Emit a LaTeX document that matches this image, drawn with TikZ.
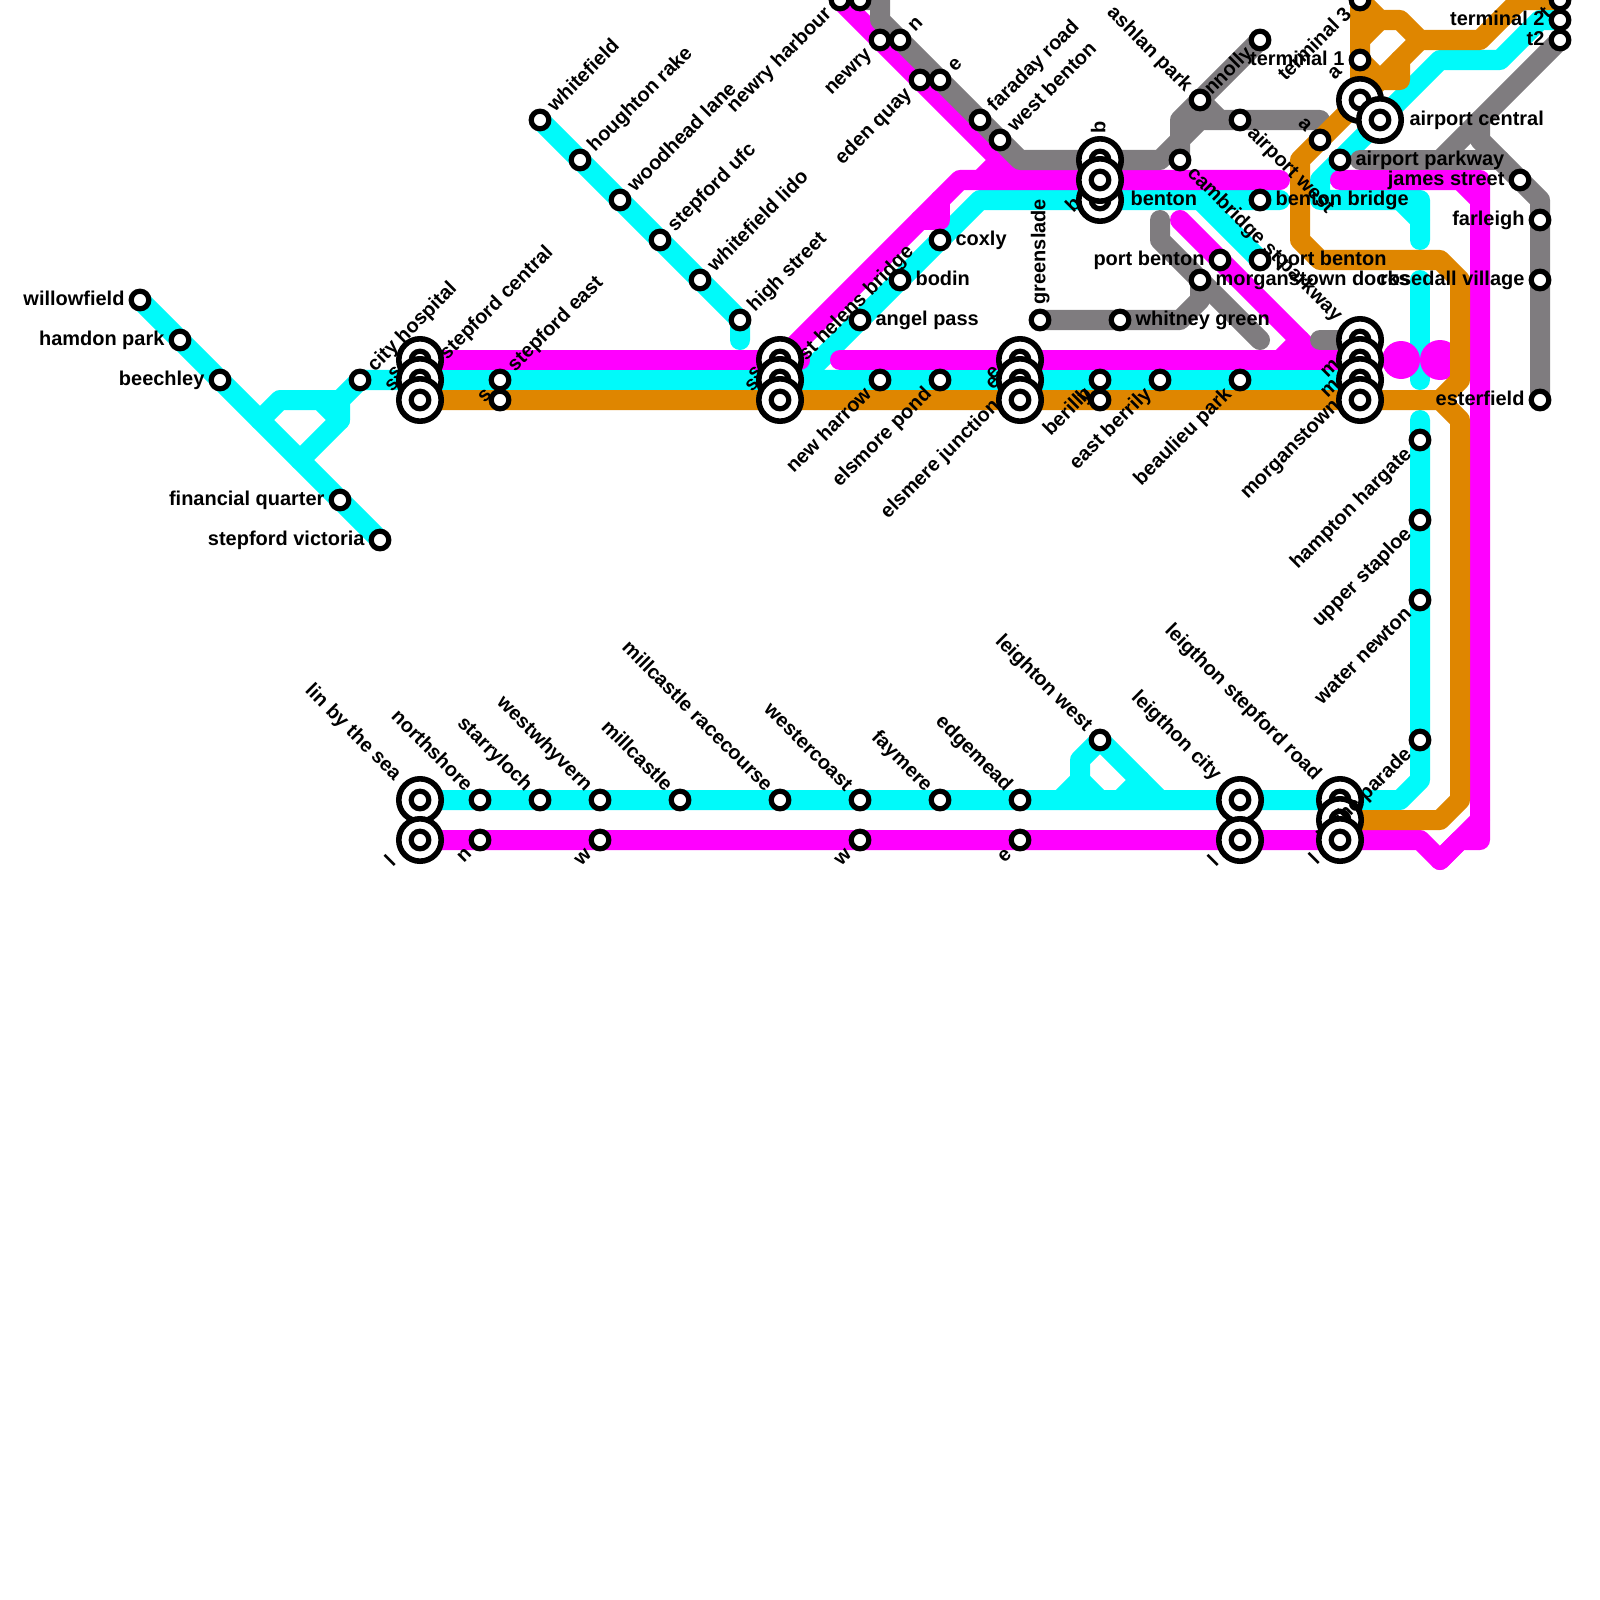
\documentclass[tikz,border=0pt]{standalone}
\usepackage{fontspec}
\setmainfont{Liberation Sans}
\definecolor{metrocyan}{HTML}{00FAFA}
\definecolor{metromagenta}{HTML}{FF00FF}
\definecolor{metroorange}{HTML}{DF8600}
\definecolor{metrogray}{HTML}{7F7C7F}
\tikzset{
    metro/.style={line width=0.25cm, line cap=round, line join=round},
    stn/.style={circle, draw=black, fill=white, line width=0.065cm, minimum size=0.22cm, inner sep=0pt},
    hubring/.style={circle, draw=black, fill=white, line width=0.07cm, minimum size=0.53cm, inner sep=0pt},
    lbl/.style={inner sep=0pt, text height=5.4pt, text depth=1.6pt, font=\bfseries\fontsize{7.1pt}{8pt}\selectfont},
    lblleft/.style={lbl, anchor=east},
    lblright/.style={lbl, anchor=west},
    lblur/.style={lbl, anchor=west, rotate=45},
    lblul/.style={lbl, anchor=east, rotate=-45},
    lbldl/.style={lbl, anchor=east, rotate=45},
    lbldr/.style={lbl, anchor=west, rotate=-45},
    lblup/.style={lbl, anchor=west, rotate=90}
}
\begin{document}
\begin{tikzpicture}[x=0.0125cm, y=-0.0125cm]
    \useasboundingbox (0,0) rectangle (1600,1600);
    % Cyan line
    \draw[metro, metrocyan] (140,300) -- (380,540);
    \draw[metro, metrocyan] (260,420) -- (280,400) -- (320,400) -- (340,420);
    \draw[metro, metrocyan] (1360,380) -- (360,380) -- (340,400) -- (340,420) -- (300,460);
    \draw[metro, metrocyan] (320,400) -- (340,400);
    \draw[metro, metrocyan] (540,120) -- (740,320) -- (740,340);
    \draw[metro, metrocyan] (800,380) -- (980,200) -- (1280,200);
    \draw[metro, metrocyan] (1200,200) -- (1260,260);
    \draw[metro, metrocyan] (1560,20) -- (1540,20) -- (1500,60) -- (1440,60) -- (1320,180) -- (1320,200) -- (1420,200) -- (1420,240);
    \draw[metro, metrocyan] (1400,200) -- (1420,220);
    \draw[metro, metrocyan] (1420,280) -- (1420,380);
    \draw[metro, metrocyan] (1420,420) -- (1420,780) -- (1400,800) -- (420,800);
    \draw[metro, metrocyan] (1060,800) -- (1080,780) -- (1080,760) -- (1100,740) -- (1160,800);
    \draw[metro, metrocyan] (1080,780) -- (1100,800);
    \draw[metro, metrocyan] (1120,800) -- (1140,780);
    % Magenta line
    \draw[metro, metromagenta] (420,360) -- (800,360);
    \draw[metro, metromagenta] (780,360) -- (960,180) -- (1280,180);
    \draw[metro, metromagenta] (940,200) -- (940,220) -- (920,220);
    \draw[metro, metromagenta] (840,0) -- (1020,180);
    \draw[metro, metromagenta] (1000,160) -- (980,180);
    \draw[metro, metromagenta] (840,360) -- (1360,360);
    \draw[metro, metromagenta] (1180,220) -- (1320,360);
    \draw[metro, metromagenta] (1300,340) -- (1280,360);
    \draw[metro, metromagenta] (1340,180) -- (1480,180) -- (1480,840) -- (1460,840) -- (1440,860) -- (1420,840) -- (420,840);
    \draw[metro, metromagenta] (1460,180) -- (1480,200);
    \draw[metro, metromagenta] (1440,860) -- (1480,820);
    \fill[metromagenta] (1401,360) circle (19) (1440,360) circle (20);
    % Gray line
    \draw[metro, metrogray] (860,0) -- (880,0) -- (880,20) -- (1020,160) -- (1160,160) -- (1180,140) -- (1180,120) -- (1260,40);
    \draw[metro, metrogray] (1180,160) -- (1180,140) -- (1200,120) -- (1320,120);
    \draw[metro, metrogray] (1200,100) -- (1220,120);
    \draw[metro, metrogray] (1160,220) -- (1160,240) -- (1260,340);
    \draw[metro, metrogray] (1200,280) -- (1200,300) -- (1180,320) -- (1040,320);
    \draw[metro, metrogray] (1320,340) -- (1360,340);
    \draw[metro, metrogray] (1360,160) -- (1500,160);
    \draw[metro, metrogray] (1440,160) -- (1560,40);
    \draw[metro, metrogray] (1480,120) -- (1480,140) -- (1540,200) -- (1540,400);
    % Orange line
    \draw[metro, metroorange] (420,400) -- (1440,400) -- (1460,420) -- (1460,800) -- (1440,820) -- (1340,820);
    \draw[metro, metroorange] (1440,400) -- (1460,380) -- (1460,280) -- (1440,260) -- (1320,260) -- (1300,240) -- (1300,160) -- (1400,60);
    \draw[metro, metroorange] (1360,100) -- (1360,0) -- (1380,20) -- (1400,20) -- (1420,40) -- (1480,40) -- (1520,0) -- (1560,0);
    \draw[metro, metroorange] (1360,40) -- (1380,20);
    \draw[metro, metroorange] (1360,60) -- (1380,80) -- (1400,80) -- (1400,60) -- (1420,40);
    % Stations under the labels
    \foreach \x/\y [count=\i] in {1340/800, 1340/820}
        {\node[hubring] (lowhub\i) at (\x,\y) {}; \node[stn] (lowstn\i) at (\x,\y) {};}
    % Labels
    \foreach \x/\y/\t [count=\i] in {140/300/willowfield, 180/340/hamdon park, 220/380/beechley, 340/500/financial quarter,
        380/540/stepford victoria, 1220/260/port benton, 1360/60/terminal 1, 1560/20/terminal 2, 1560/40/t2,
        1520/180/james street, 1540/220/farleigh, 1540/280/rosedall village, 1540/400/esterfield}
        \node[lblleft] (west\i) at (\x-15,\y) {\t};
    \foreach \x/\y/\t [count=\i] in {940/240/coxly, 900/280/bodin, 860/320/angel pass, 1120/320/whitney green,
        1260/200/benton bridge, 1260/260/port benton, 1200/280/morganstown docks, 1340/160/airport parkway,
        1115/200/benton, 1394/120/airport central}
        \node[lblright] (east\i) at (\x+15,\y) {\t};
    \foreach \x/\y/\t [count=\i] in {540/120/whitefield, 580/160/houghton rake, 620/200/woodhead lane, 660/240/stepford ufc,
        700/280/whitefield lido, 740/320/high street, 360/380/city hospital, 500/380/stepford east, 980/120/faraday road,
        1000/140/west benton, 900/40/n, 940/80/e, 432/368/stepford central, 791/369/st helens bridge}
        \node[lblur] (upright\i) at (\x+11,\y-11) {\t};
    \foreach \x/\y/\t [count=\i] in {1200/100/ashlan park, 480/800/northshore, 540/800/starryloch, 600/800/westwhyvern,
        680/800/millcastle, 780/800/millcastle racecourse, 860/800/westercoast, 940/800/faymere, 1020/800/edgemead,
        1100/740/leighton west, 409/789/lin by the sea, 1229/789/leigthon city, 1329/789/leigthon stepford road}
        \node[lblul] (upleft\i) at (\x-11,\y-11) {\t};
    \foreach \x/\y/\t [count=\i] in {840/0/newry harbour, 880/40/newry, 920/80/eden quay, 1261/39/connolly, 1360/0/terminal 3,
        880/380/new harrow, 940/380/elsmore pond, 1160/380/east berrily, 1240/380/beaulieu park, 1100/380/berilly,
        1100/380/b, 1420/440/hampton hargate, 1420/520/upper staploe, 1420/600/water newton, 1420/740/hythe parade,
        500/380/s, 480/840/n, 600/840/w, 860/840/w, 1020/840/e, 1560/0/t,
        1008/392/elsmere junction, 1348/392/morganstown}
        \node[lbldl] (downleft\i) at (\x-11,\y+11) {\t};
    \foreach \x/\y/\t [count=\i] in {1180/160/cambridge st parkway, 1240/120/airport west}
        \node[lbldr] (downright\i) at (\x+10,\y+10) {\t};
    \foreach \x/\y/\t [count=\i] in {1040/320/greenslade, 1100/149/b}
        \node[lblup] (up\i) at (\x,\y-15) {\t};
    % Short labels beside the stacked stations
    \foreach \x/\y/\t/\r [count=\i] in {395/373/s/45, 392/385/s/45, 755/373/s/45, 752/385/s/45, 993/373/e/45, 993/383/e/45,
        1330/368/m/45, 1330/388/m/45, 1074/205/b/45, 1335/73/a/45, 1305/125/a/-45,
        391/862/l/45, 1214/862/l/45, 1315/860/l/45}
        \node[lbl, rotate=\r] (short\i) at (\x,\y) {\t};
    % Stations
    \foreach \x/\y [count=\i] in {140/300, 180/340, 220/380, 340/500, 380/540, 360/380, 500/380, 500/400,
        540/120, 580/160, 620/200, 660/240, 700/280, 740/320,
        840/0, 860/0, 880/40, 900/40, 920/80, 940/80, 980/120, 1000/140,
        940/240, 900/280, 860/320, 880/380, 940/380, 1040/320, 1120/320, 1100/380, 1100/400, 1160/380, 1240/380,
        1180/160, 1200/100, 1260/40, 1240/120, 1320/140, 1340/160, 1360/0, 1360/60, 1260/200, 1220/260, 1260/260, 1200/280,
        1520/180, 1540/220, 1540/280, 1540/400, 1560/0, 1560/20, 1560/40,
        1420/440, 1420/520, 1420/600, 1420/740,
        480/800, 480/840, 540/800, 600/800, 600/840, 680/800, 780/800, 860/800, 860/840, 940/800,
        1020/800, 1020/840, 1100/740}
        \node[stn] (stn\i) at (\x,\y) {};
    % Interchanges, later ones over earlier ones
    \foreach \x/\y [count=\i] in {420/360, 420/380, 420/400, 780/360, 780/380, 780/400, 1020/360, 1020/380, 1020/400,
        1100/160, 1100/200, 1100/180, 1360/340, 1360/360, 1360/380, 1360/400, 1360/100, 1380/120,
        420/800, 420/840, 1240/800, 1240/840, 1340/840}
        {\node[hubring] (hub\i) at (\x,\y) {}; \node[stn] (hubstn\i) at (\x,\y) {};}
\end{tikzpicture}
\end{document}
